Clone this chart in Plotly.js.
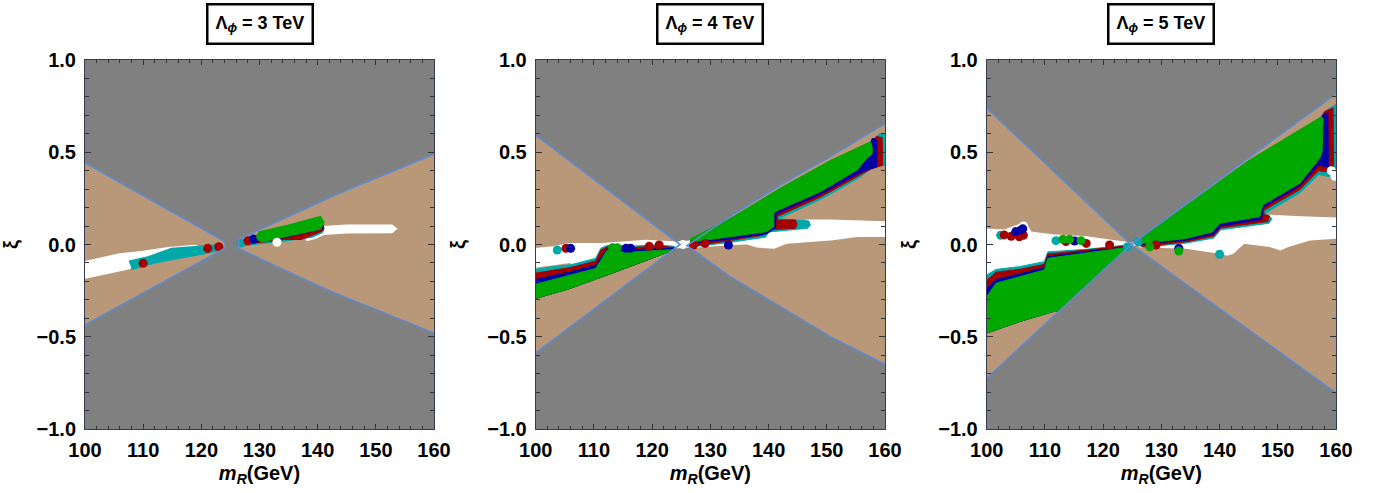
<!DOCTYPE html>
<html>
<head>
<meta charset="utf-8">
<script src="https://cdn.plot.ly/plotly-3.0.1.min.js"></script>
<style>html,body{margin:0;padding:0;background:#fff;}#chart{width:1374px;height:493px;}</style>
</head>
<body>
<div id="chart"></div>
<script>
// ---------- panel titles ----------
const PANEL_TITLES = ['Λ<sub><i>ϕ</i></sub> = 3 TeV', 'Λ<sub><i>ϕ</i></sub> = 4 TeV', 'Λ<sub><i>ϕ</i></sub> = 5 TeV'];

// ---------- Panel 1 (Λφ = 3 TeV) ----------
const P1_WEDGE_L = [[100,0.443],[124.1,0.015],[124.1,-0.02],[100,-0.436]];
const P1_WEDGE_R = [[160,0.49],[143,0.268],[130,0.08],[126.4,0.03],[126.4,-0.021],[133,-0.12],[142.7,-0.26],[160,-0.48]];
const P1_WHITE_L = [[100,-0.10],[102,-0.085],[105.7,-0.06],[110,-0.045],[114.3,-0.025],[118.9,-0.012],[119.5,-0.02],[116,-0.045],[110,-0.085],[107.4,-0.125],[104,-0.15],[100,-0.175]];
const P1_CYAN_L = [[107.6,-0.095],[111,-0.07],[114.9,-0.026],[118,-0.02],[120.6,-0.012],[123,-0.006],[123.5,-0.015],[123,-0.027],[120.6,-0.045],[116,-0.07],[112,-0.095],[108,-0.13]];
const P1_WHITE_R = [[137.2,0.035],[139,0.06],[140.5,0.088],[145,0.098],[152.7,0.098],[153.2,0.085],[152.7,0.072],[145,0.07],[141,0.062],[139.5,0.04],[138,0.028]];
const P1_CYAN_R = [[126.4,0.0],[127.5,0.03],[140.7,0.1],[141,0.08],[140.7,0.065],[139,0.042],[134.4,0.022],[129.8,0.004],[127,-0.005]];
const P1_RED_R = [[128,0.035],[140.7,0.105],[141,0.09],[140.7,0.075],[137.2,0.03],[134.4,0.031],[128.1,0.006]];
const P1_BLUE_R = [[128.9,0.04],[140.7,0.11],[140.9,0.1],[140.7,0.088],[134.4,0.04],[128.9,0.014]];
const P1_GREEN_R = [[129.8,0.063],[135,0.1],[140.4,0.146],[140.9,0.12],[140.4,0.088],[135,0.05],[130.4,0.019],[129.5,0.04]];
const P1_DOTS_WHITE = [[133.0],[0.012]];
const P1_DOTS_CYAN = [[126.8],[0.008]];
const P1_DOTS_RED = [[110.0,121.1,123.0,128.0],[-0.102,-0.021,-0.012,0.02]];
const P1_DOTS_BLUE = [[129.0],[0.03]];
const P1_DOTS_GREEN = [[130.2],[0.042]];

// ---------- Panel 2 (Λφ = 4 TeV) ----------
const P2_WEDGE_L = [[100,0.593],[124.8,0.0],[100,-0.588]];
const P2_WEDGE_R = [[160,0.655],[150.6,0.476],[142,0.3225],[133.4,0.151],[126,-0.006],[133.4,-0.174],[142,-0.337],[150.6,-0.4995],[160,-0.65]];
const P2L_LOWER = [[100,-0.292],[105.7,-0.24],[111.5,-0.174],[117,-0.11],[122.9,-0.039],[123.8,-0.028]];
const P2L_GREEN_UP = [[100,-0.215],[103,-0.19],[106,-0.165],[110.3,-0.13],[111.2,-0.085],[112.3,-0.03],[113,-0.035],[117,-0.04],[121,-0.032],[123.8,-0.028]];
const P2L_BLUE_UP = [[100,-0.19],[103,-0.168],[106,-0.148],[110.3,-0.112],[111.2,-0.07],[112.3,-0.022],[117,-0.028],[121,-0.022],[123.8,-0.022]];
const P2L_RED_UP = [[100,-0.155],[103,-0.14],[106,-0.125],[110.3,-0.09],[111.2,-0.03],[112.3,-0.012],[117,-0.016],[121,-0.008],[123.8,-0.016]];
const P2L_CYAN_UP = [[100,-0.135],[103,-0.12],[106,-0.11],[110.3,-0.075],[111.2,-0.02],[112.3,-0.005],[117,-0.008],[121,-0.002],[123.8,-0.01]];
const P2L_WHITE = [[100,-0.125],[100,-0.03],[103,-0.02],[105.7,-0.003],[111.5,-0.003],[118.9,0.015],[124.6,0.006],[125.6,0.0],[124.6,-0.01],[121,-0.01],[111.2,-0.04],[110.3,-0.08],[106,-0.1]];
const P2R_WHITE = [[125.8,0.01],[130.5,0.02],[136,0.04],[139.5,0.07],[140.9,0.09],[146.6,0.125],[150.6,0.125],[155,0.118],[160,0.115],[160,0.051],[155.2,0.051],[150.6,0.033],[145,0.02],[143.1,0.015],[140.9,-0.012],[138,-0.006],[136.3,0.012],[132,0.006],[128.2,-0.004],[126,-0.008]];
const P2R_CYAN = [[127,0.025],[150.6,0.44],[157.5,0.55],[159,0.6],[160,0.6],[160,0.43],[158,0.42],[155.5,0.36],[149,0.245],[141.7,0.14],[146.9,0.128],[147.2,0.106],[146.7,0.088],[140,0.068],[139.5,0.04],[133,0.01],[127,-0.012],[126.3,-0.005]];
const P2R_RED = [[127,0.025],[150.6,0.44],[157.5,0.55],[158.5,0.585],[159.5,0.58],[159.6,0.43],[157.5,0.408],[155.5,0.372],[148.9,0.257],[141.5,0.152],[141.5,0.133],[144.6,0.133],[144.9,0.11],[144.6,0.088],[139.7,0.08],[139,0.05],[133,0.02],[127,-0.01],[126.3,0.0]];
const P2R_BLUE = [[127,0.025],[150.6,0.44],[157.5,0.55],[157.8,0.575],[158.6,0.57],[158.6,0.42],[157.5,0.41],[155.8,0.39],[148.9,0.272],[141.3,0.165],[141.2,0.09],[139.7,0.058],[133,0.028],[127,0.008]];
const P2R_GREEN = [[126.5,0.03],[133.4,0.14],[142,0.305],[150.6,0.455],[157.5,0.557],[157.8,0.53],[157.8,0.49],[156.9,0.467],[155.2,0.404],[148.9,0.286],[141.1,0.178],[140.9,0.169],[140.9,0.097],[139.7,0.07],[133,0.04],[126.5,0.012]];
const P2_DOTS_WHITE = [[125.3],[0.0]];
const P2_DOTS_CYAN = [[103.7],[-0.03]];
const P2_DOTS_RED = [[105.2,119.5,121.2,127.1,129.1],[-0.021,-0.01,-0.003,-0.003,0.006]];
const P2_DOTS_BLUE = [[106.0,115.5,116.3,133.1],[-0.021,-0.021,-0.02,-0.003]];
const P2_DOTS_GREEN = [[113.2,114.0],[-0.017,-0.017]];

// ---------- Panel 3 (Λφ = 5 TeV) ----------
const P3_WEDGE_L = [[100,0.74],[124.8,0.0],[100,-0.725]];
const P3_WEDGE_R = [[160,0.817],[124.8,0.0],[160,-0.805]];
const P3L_LOWER = [[100,-0.48],[105.6,-0.418],[111.3,-0.364],[112.2,-0.362],[118,-0.2],[123.7,-0.032],[124.5,-0.008]];
const P3L_GREEN_UP = [[100,-0.283],[101.6,-0.21],[105.6,-0.175],[109.9,-0.138],[110.5,-0.075],[117.1,-0.048],[123.7,-0.017],[124.5,-0.008]];
const P3L_BLUE_UP = [[100,-0.24],[101.6,-0.19],[105.6,-0.16],[109.9,-0.125],[110.5,-0.065],[117.1,-0.04],[123.7,-0.012],[124.5,-0.006]];
const P3L_RED_UP = [[100,-0.195],[101.6,-0.15],[105.6,-0.135],[109.9,-0.108],[110.5,-0.052],[117.1,-0.032],[123.7,-0.008],[124.5,-0.004]];
const P3L_CYAN_UP = [[100,-0.165],[101.6,-0.135],[105.6,-0.12],[109.9,-0.093],[110.5,-0.04],[117.1,-0.026],[123.7,-0.004],[124.5,-0.002]];
const P3L_WHITE = [[100,-0.18],[100,0.075],[103,0.07],[106.5,0.11],[107.5,0.06],[111.3,0.045],[117.1,0.034],[123.9,0.008],[124.8,0.0],[123.7,-0.01],[110.5,-0.045],[109.9,-0.1],[101.6,-0.14]];
const P3R_WHITE = [[125,0.003],[134,0.028],[139,0.06],[140,0.097],[146,0.14],[148.7,0.15],[154,0.142],[160,0.135],[160,0.042],[155.6,0.033],[152,0.0],[150.4,-0.021],[148.7,-0.003],[144.1,0.015],[142.2,-0.04],[141.3,-0.05],[140,-0.04],[134.3,-0.012],[126.2,-0.004]];
const P3R_CYAN = [[126,0.005],[145,0.44],[157.5,0.68],[158.5,0.73],[160,0.76],[160,0.36],[157,0.38],[153.8,0.28],[150.3,0.215],[147.8,0.17],[149,0.14],[148.5,0.115],[140.2,0.08],[139,0.035],[134.3,0.008],[127,-0.015],[125.8,0.0]];
const P3R_RED = [[126,0.005],[145,0.44],[157.5,0.68],[158,0.72],[159.5,0.74],[159.6,0.39],[157,0.4],[153.8,0.298],[150.3,0.235],[147.6,0.185],[147.6,0.162],[148.6,0.155],[148.3,0.125],[140.2,0.09],[139,0.045],[134.3,0.015],[127,-0.012],[126,0.0]];
const P3R_BLUE = [[126,0.005],[145,0.44],[157.5,0.68],[157.6,0.7],[158.6,0.715],[158.7,0.42],[157,0.43],[153.8,0.318],[150.3,0.252],[147.5,0.2],[147.2,0.135],[140.2,0.1],[139,0.055],[134.3,0.024],[126.2,0.0]];
const P3R_GREEN = [[125.5,0.012],[135,0.23],[145,0.455],[157.5,0.693],[157.8,0.68],[157.6,0.5],[157.2,0.467],[153.8,0.332],[150.3,0.268],[147.4,0.214],[146.9,0.151],[140,0.115],[138.8,0.069],[134.3,0.033],[126.2,0.004]];
const P3_DOTS_WHITE = [[106.3,159.2,159.8],[0.1,0.40,0.37]];
const P3_DOTS_CYAN = [[102.4,111.9,124.2,126.0,140.0],[0.05,0.021,-0.012,0.015,-0.053]];
const P3_DOTS_RED = [[103.0,104.2,105.6,106.3,113.6,117.1,121.1,129.1],[0.052,0.045,0.042,0.05,0.016,0.006,-0.003,-0.003]];
const P3_DOTS_BLUE = [[105.0,105.9,106.2,115.1,133.0],[0.07,0.079,0.085,0.019,-0.021]];
const P3_DOTS_GREEN = [[113.1,114.2,116.2,128.0,133.0],[0.028,0.028,0.021,-0.012,-0.035]];

// ---------- styles ----------
const C_BG = '#808080', C_TAN = '#b9987a', C_WHITE = '#ffffff', C_CYAN = '#00a9a9',
      C_RED = '#a50000', C_BLUE = '#0000a5', C_GREEN = '#00a800', C_LINE = '#6189cc';

const traces = [];
function poly(pts, color, ax, lw) {
  traces.push({type:'scatter', mode:'lines', x: pts.map(p=>p[0]), y: pts.map(p=>p[1]),
    fill:'toself', fillcolor: color, line:{color: color, width: lw},
    xaxis: 'x'+ax, yaxis: 'y'+ax, hoverinfo:'skip', showlegend:false});
}
function band(upper, lower, color, ax, lw) { poly(upper.concat(lower.slice().reverse()), color, ax, lw); }
function dots(d, color, ax) {
  traces.push({type:'scatter', mode:'markers', x: d[0], y: d[1],
    marker:{size:9, color: color, line:{width:0}}, xaxis:'x'+ax, yaxis:'y'+ax, hoverinfo:'skip', showlegend:false});
}
function bound(pts, ax) {
  traces.push({type:'scatter', mode:'lines', x: pts.map(p=>p[0]), y: pts.map(p=>p[1]),
    line:{color: C_LINE, width: 1.6}, xaxis:'x'+ax, yaxis:'y'+ax, hoverinfo:'skip', showlegend:false});
}

// panel 1
poly(P1_WEDGE_L, C_TAN, '', 0); poly(P1_WEDGE_R, C_TAN, '', 0);
poly(P1_WHITE_L, C_WHITE, '', 4); poly(P1_WHITE_R, C_WHITE, '', 4);
poly(P1_CYAN_L, C_CYAN, '', 3); poly(P1_CYAN_R, C_CYAN, '', 2);
poly(P1_RED_R, C_RED, '', 2); poly(P1_BLUE_R, C_BLUE, '', 2); poly(P1_GREEN_R, C_GREEN, '', 3);
dots(P1_DOTS_WHITE, C_WHITE, ''); dots(P1_DOTS_CYAN, C_CYAN, ''); dots(P1_DOTS_RED, C_RED, '');
dots(P1_DOTS_BLUE, C_BLUE, ''); dots(P1_DOTS_GREEN, C_GREEN, '');
bound(P1_WEDGE_L, ''); bound(P1_WEDGE_R, '');

// panel 2
poly(P2_WEDGE_L, C_TAN, '2', 0); poly(P2_WEDGE_R, C_TAN, '2', 0);
poly(P2L_WHITE, C_WHITE, '2', 4); poly(P2R_WHITE, C_WHITE, '2', 4);
band(P2L_CYAN_UP, P2L_LOWER, C_CYAN, '2', 1); band(P2L_RED_UP, P2L_LOWER, C_RED, '2', 1);
band(P2L_BLUE_UP, P2L_LOWER, C_BLUE, '2', 1); band(P2L_GREEN_UP, P2L_LOWER, C_GREEN, '2', 1);
poly(P2R_CYAN, C_CYAN, '2', 1); poly(P2R_RED, C_RED, '2', 1); poly(P2R_BLUE, C_BLUE, '2', 1); poly(P2R_GREEN, C_GREEN, '2', 1);
dots(P2_DOTS_WHITE, C_WHITE, '2'); dots(P2_DOTS_CYAN, C_CYAN, '2'); dots(P2_DOTS_RED, C_RED, '2');
dots(P2_DOTS_BLUE, C_BLUE, '2'); dots(P2_DOTS_GREEN, C_GREEN, '2');
bound(P2_WEDGE_L, '2'); bound(P2_WEDGE_R, '2');

// panel 3
poly(P3_WEDGE_L, C_TAN, '3', 0); poly(P3_WEDGE_R, C_TAN, '3', 0);
poly(P3L_WHITE, C_WHITE, '3', 4); poly(P3R_WHITE, C_WHITE, '3', 4);
band(P3L_CYAN_UP, P3L_LOWER, C_CYAN, '3', 1); band(P3L_RED_UP, P3L_LOWER, C_RED, '3', 1);
band(P3L_BLUE_UP, P3L_LOWER, C_BLUE, '3', 1); band(P3L_GREEN_UP, P3L_LOWER, C_GREEN, '3', 1);
poly(P3R_CYAN, C_CYAN, '3', 1); poly(P3R_RED, C_RED, '3', 1); poly(P3R_BLUE, C_BLUE, '3', 1); poly(P3R_GREEN, C_GREEN, '3', 1);
dots(P3_DOTS_WHITE, C_WHITE, '3'); dots(P3_DOTS_CYAN, C_CYAN, '3'); dots(P3_DOTS_RED, C_RED, '3');
dots(P3_DOTS_BLUE, C_BLUE, '3'); dots(P3_DOTS_GREEN, C_GREEN, '3');
bound(P3_WEDGE_L, '3'); bound(P3_WEDGE_R, '3');

// ---------- layout ----------
const W = 1374, H = 493;
const XDOM = [[85/W, 434/W], [535.7/W, 885/W], [986.7/W, 1336/W]];
const YDOM = [(H-429)/H, (H-60)/H];
const FONT = {family:'Liberation Sans, Arial, sans-serif', size:20, color:'#000', weight:'bold'};
const TFONT = {family:'Liberation Sans, Arial, sans-serif', size:18, color:'#000', weight:'bold'};
const AXCOL = '#353b4e';

const layout = {width:W, height:H, margin:{l:0,r:0,t:0,b:0}, paper_bgcolor:'#fff', plot_bgcolor:C_BG,
  showlegend:false, annotations:[]};
['', '2', '3'].forEach((s, i) => {
  layout['xaxis'+s] = {domain: XDOM[i], range:[100,160], anchor:'y'+s, tickmode:'linear', tick0:100, dtick:10,
    ticks:'inside', ticklen:5, tickwidth:1, tickcolor:'#333', showline:true, linecolor:AXCOL, linewidth:1, mirror:'ticks',
    showgrid:false, zeroline:false, tickfont:FONT, ticklabelstandoff:3, automargin:false,
    minor:{tick0:100, dtick:2, ticks:'inside', ticklen:3, tickcolor:'#333', showgrid:false},
    title:{text:'<i>m</i><sub><i>R</i></sub>(GeV)', font:FONT, standoff:5}};
  layout['yaxis'+s] = {domain: YDOM, range:[-1,1], anchor:'x'+s, tickmode:'linear', tick0:-1, dtick:0.5, tickformat:'.1f',
    ticks:'inside', ticklen:6, tickwidth:1, tickcolor:'#333', showline:true, linecolor:AXCOL, linewidth:1, mirror:'ticks',
    showgrid:false, zeroline:false, tickfont:FONT, ticklabelstandoff:4, automargin:false,
    minor:{tick0:0, dtick:0.1, ticks:'inside', ticklen:4, tickcolor:'#333', showgrid:false},
    title:{text:'ξ', font:FONT, standoff:16}};
  layout.annotations.push({xref:'x'+s+' domain', yref:'paper', x:0.5, y:(H-24)/H, xanchor:'center', yanchor:'middle',
    text: PANEL_TITLES[i], showarrow:false, font:TFONT, bgcolor:'#fff', bordercolor:'#000', borderwidth:2.5, borderpad:7});
});

Plotly.newPlot('chart', traces, layout, {displayModeBar:false, staticPlot:true});
</script>
</body>
</html>
